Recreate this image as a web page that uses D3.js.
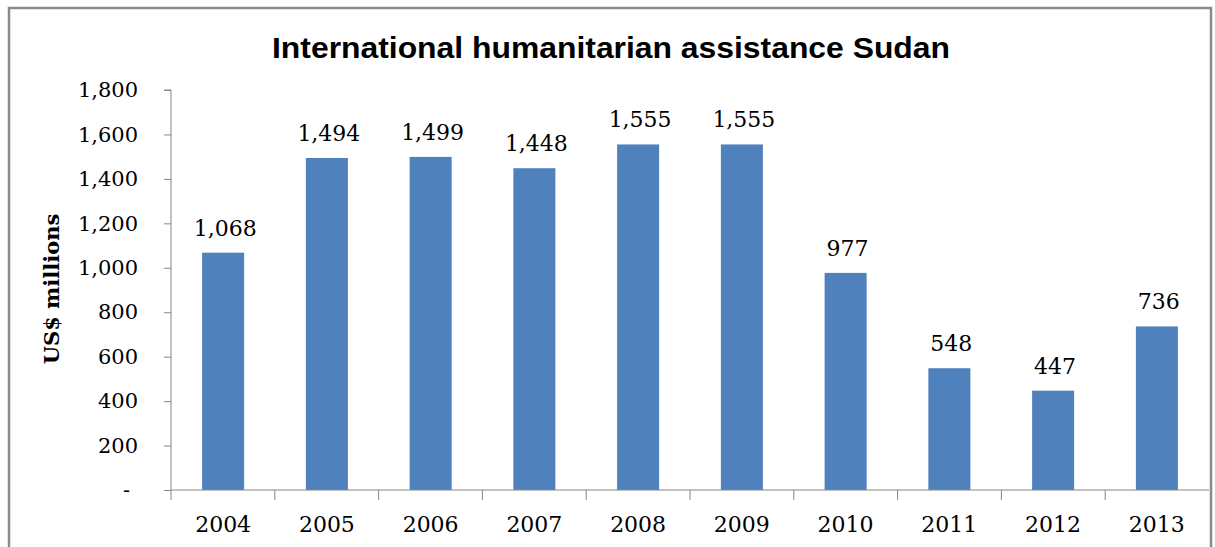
<!DOCTYPE html>
<html>
<head>
<meta charset="utf-8">
<script src="https://cdn.jsdelivr.net/npm/d3@7"></script>
<style>
  html, body { margin: 0; padding: 0; background: #fff; }
  svg { display: block; }
</style>
</head>
<body>
<svg id="chart" width="1215" height="547"></svg>
<script>
const years = ["2004","2005","2006","2007","2008","2009","2010","2011","2012","2013"];
const values = [1068, 1494, 1499, 1448, 1555, 1555, 977, 548, 447, 736];
const yTicks = [0, 200, 400, 600, 800, 1000, 1200, 1400, 1600, 1800];
const titleText = "International humanitarian assistance Sudan";
const yAxisTitle = "US$ millions";

const svg = d3.select("#chart");
const serif = "'DejaVu Serif', serif";

// frame
svg.append("rect")
  .attr("x", 9).attr("y", 8).attr("width", 1202).attr("height", 560)
  .attr("fill", "#fff").attr("stroke", "#8a8a8a").attr("stroke-width", 2.5);

const plotL = 171, plotR = 1209, plotT = 90, plotB = 490;

const x = d3.scaleBand().domain(years).range([plotL, plotR]).paddingInner(0.595).paddingOuter(0.3);
const y = d3.scaleLinear().domain([0, 1800]).range([plotB, plotT]);

// title
svg.append("text")
  .attr("x", 611).attr("y", 58)
  .attr("text-anchor", "middle")
  .attr("font-family", "'Liberation Sans', Arial, sans-serif")
  .attr("font-weight", "bold")
  .attr("font-size", 29)
  .attr("textLength", 678)
  .attr("lengthAdjust", "spacingAndGlyphs")
  .attr("fill", "#000")
  .text(titleText);

// bars
svg.append("g").selectAll("rect")
  .data(values)
  .join("rect")
  .attr("x", (d, i) => x(years[i]))
  .attr("y", d => y(d))
  .attr("width", x.bandwidth())
  .attr("height", d => y(0) - y(d))
  .attr("fill", "#4F81BD");

// value labels
svg.append("g").selectAll("text")
  .data(values)
  .join("text")
  .attr("x", (d, i) => x(years[i]) + x.bandwidth() / 2 + 2)
  .attr("y", d => y(d) - 17)
  .attr("text-anchor", "middle")
  .attr("font-family", serif)
  .attr("font-size", 22)
  .attr("fill", "#000")
  .text(d => d3.format(",")(d));

// y axis
const yAxis = d3.axisLeft(y)
  .tickValues(yTicks)
  .tickSize(7)
  .tickPadding(26)
  .tickFormat(d => d === 0 ? "-" : d3.format(",")(d));
const gy = svg.append("g").attr("transform", `translate(${plotL},0)`).call(yAxis);
gy.select(".domain").attr("stroke", "#868686").attr("d", `M-7,${plotT}H0V${plotB}`);
gy.selectAll(".tick line").attr("stroke", "#868686");
gy.selectAll(".tick text")
  .attr("font-family", serif).attr("font-size", 21).attr("fill", "#000")
  .attr("x", -33).attr("text-anchor", "end");
gy.selectAll(".tick").filter(d => d === 0).select("text").attr("x", -41);

// x axis
const xAxis = d3.axisBottom(x).tickSize(0).tickPadding(26);
const gx = svg.append("g").attr("transform", `translate(0,${plotB})`).call(xAxis);
gx.select(".domain").attr("stroke", "#868686").attr("d", `M${plotL},0H${plotR}`);
gx.selectAll(".tick text").attr("font-family", serif).attr("font-size", 22).attr("fill", "#000");
// category separators
const seps = d3.range(years.length).map(i => plotL + i * (plotR - plotL) / years.length);
gx.append("g").selectAll("line")
  .data(seps)
  .join("line")
  .attr("x1", d => d).attr("x2", d => d)
  .attr("y1", 0).attr("y2", 10)
  .attr("stroke", "#868686");

// y axis title
svg.append("text")
  .attr("transform", "translate(59,289) rotate(-90)")
  .attr("text-anchor", "middle")
  .attr("font-family", serif)
  .attr("font-weight", "bold")
  .attr("font-size", 21)
  .attr("fill", "#000")
  .text(yAxisTitle);
</script>
</body>
</html>
